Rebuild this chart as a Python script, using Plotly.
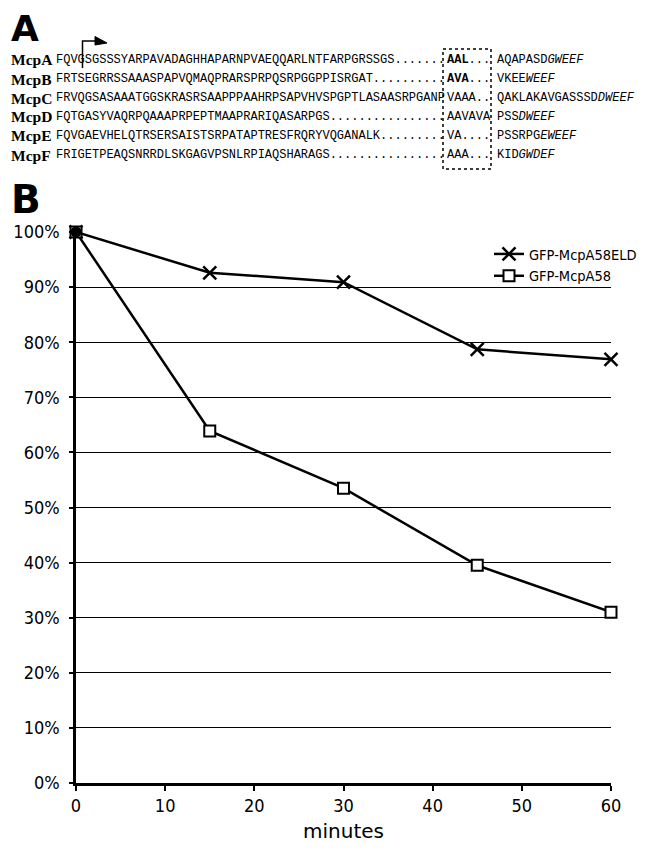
import plotly.graph_objects as go

# ---------------- data ----------------
minutes = [0, 15, 30, 45, 60]
eld_values = [100, 92.6, 90.9, 78.7, 76.9]
a58_values = [100, 63.9, 53.5, 39.5, 31.0]
series_names = ["GFP-McpA58ELD", "GFP-McpA58"]
y_ticks = [0, 10, 20, 30, 40, 50, 60, 70, 80, 90, 100]
y_tick_labels = [f"{v}%" for v in y_ticks]
x_ticks = [0, 10, 20, 30, 40, 50, 60]

protein_labels = ["McpA", "McpB", "McpC", "McpD", "McpE", "McpF"]
seq_left = [
    "FQVGSGSSSYARPAVADAGHHAPARNPVAEQQARLNTFARPGRSSGS.......",
    "FRTSEGRRSSAAASPAPVQMAQPRARSPRPQSRPGGPPISRGAT..........",
    "FRVQGSASAAATGGSKRASRSAAPPPAAHRPSAPVHVSPGPTLASAASRPGANP",
    "FQTGASYVAQRPQAAAPRPEPTMAAPRARIQASARPGS................",
    "FQVGAEVHELQTRSERSAISTSRPATAPTRESFRQRYVQGANALK.........",
    "FRIGETPEAQSNRRDLSKGAGVPSNLRPIAQSHARAGS................",
]
seq_mid = ["<b>AAL</b>...", "<b>AVA</b>...", "VAAA..", "AAVAVA", "VA....", "AAA..."]
seq_tail = [
    "AQAPASD<i>GWEEF</i>",
    "VKEE<i>WEEF</i>",
    "QAKLAKAVGASSSD<i>DWEEF</i>",
    "PSS<i>DWEEF</i>",
    "PSSRPG<i>EWEEF</i>",
    "KID<i>GWDEF</i>",
]

# ---------------- layout geometry (page has an 8px body margin) ----------------
OFF = 8
W, H = 647 - OFF, 852 - OFF
PL, PR, PT, PB = 76, 611, 232, 783  # plot area in page pixels
L, T = PL - OFF, PT - OFF
R, B = W - (PR - OFF), H - (PB - OFF)
PW, PH = PR - PL, PB - PT


def px(x):
    return (x - PL) / PW


def py(y):
    return (PB - y) / PH


narrow = "DejaVu Sans Condensed, Liberation Sans Narrow, Liberation Sans"
tick_font = dict(family=narrow, size=18, color="black")

fig = go.Figure()
fig.add_trace(go.Scatter(
    x=minutes, y=eld_values, name=series_names[0], mode="lines+markers",
    line=dict(color="black", width=2.5),
    marker=dict(symbol="x-thin-open", size=13, color="black", line=dict(color="black", width=2.5)),
    cliponaxis=False,
))
fig.add_trace(go.Scatter(
    x=minutes, y=a58_values, name=series_names[1], mode="lines+markers",
    line=dict(color="black", width=2.5),
    marker=dict(symbol="square", size=11, color="white", line=dict(color="black", width=2)),
    cliponaxis=False,
))
fig.add_trace(go.Scatter(
    x=[minutes[0]], y=[eld_values[0]], mode="markers", showlegend=False,
    marker=dict(symbol="circle", size=11, color="black"), cliponaxis=False,
))

fig.update_layout(
    width=W, height=H,
    margin=dict(l=L, r=R, t=T, b=B, autoexpand=False),
    paper_bgcolor="white", plot_bgcolor="white",
    showlegend=True,
    legend=dict(x=px(489), y=py(238), xanchor="left", yanchor="top",
                font=dict(family=narrow, size=14.5, color="black"),
                bgcolor="rgba(0,0,0,0)", tracegroupgap=2),
    xaxis=dict(range=[0, 60], tickvals=x_ticks, showgrid=False, zeroline=False,
               showline=True, linecolor="black", linewidth=2.5,
               ticks="outside", ticklen=5, tickwidth=2, tickcolor="black",
               tickfont=tick_font,
               title=dict(text="minutes", font=dict(family="DejaVu Sans, Liberation Sans", size=20, color="black"), standoff=9)),
    yaxis=dict(range=[0, 100], tickvals=y_ticks, ticktext=y_tick_labels, showgrid=True, gridcolor="black", gridwidth=1,
               zeroline=False, showline=True, linecolor="black", linewidth=2.5,
               ticks="outside", ticklen=4, tickwidth=2, tickcolor="black",
               tickfont=tick_font, ticklabelstandoff=6),
)

annotations = []
# Panel letters
annotations.append(dict(text="<b>A</b>", x=px(9), y=py(28), xref="paper", yref="paper",
                        xanchor="left", yanchor="middle", showarrow=False,
                        font=dict(family="DejaVu Sans, Liberation Sans", size=36, color="black")))
annotations.append(dict(text="<b>B</b>", x=px(9), y=py(200), xref="paper", yref="paper",
                        xanchor="left", yanchor="middle", showarrow=False,
                        font=dict(family="DejaVu Sans, Liberation Sans", size=39, color="black")))

row_y = [60, 79, 98, 117, 136, 155]
mono = dict(family="Liberation Mono, Courier New, monospace", size=12, color="black")
for i, lab in enumerate(protein_labels):
    yy = py(row_y[i])
    annotations.append(dict(text="<b>" + lab + "</b>", x=px(9), y=yy, xref="paper", yref="paper",
                            xanchor="left", yanchor="middle", showarrow=False,
                            font=dict(family="Liberation Serif, Times New Roman, serif", size=15.5, color="black")))
    annotations.append(dict(text=seq_left[i], x=px(54), y=yy, xref="paper", yref="paper",
                            xanchor="left", yanchor="middle", showarrow=False, font=mono))
    annotations.append(dict(text=seq_mid[i], x=px(445), y=yy, xref="paper", yref="paper",
                            xanchor="left", yanchor="middle", showarrow=False, font=mono))
    annotations.append(dict(text=seq_tail[i], x=px(495), y=yy, xref="paper", yref="paper",
                            xanchor="left", yanchor="middle", showarrow=False, font=mono))

fig.update_layout(annotations=annotations)

shapes = []
# dotted box
shapes.append(dict(type="rect", xref="paper", yref="paper",
                   x0=px(443), x1=px(491), y0=py(49), y1=py(169),
                   line=dict(color="black", width=1.5, dash="dot")))
# transcription-start arrow
shapes.append(dict(type="path", xref="paper", yref="paper",
                   path=f"M {px(82.5)},{py(68)} L {px(82.5)},{py(41)} L {px(96)},{py(41)}",
                   line=dict(color="black", width=1.5)))
shapes.append(dict(type="path", xref="paper", yref="paper",
                   path=f"M {px(95)},{py(36.5)} L {px(107)},{py(43)} L {px(95)},{py(45)} Z",
                   fillcolor="black", line=dict(color="black", width=1)))
fig.update_layout(shapes=shapes)

fig.write_html("out.html")
